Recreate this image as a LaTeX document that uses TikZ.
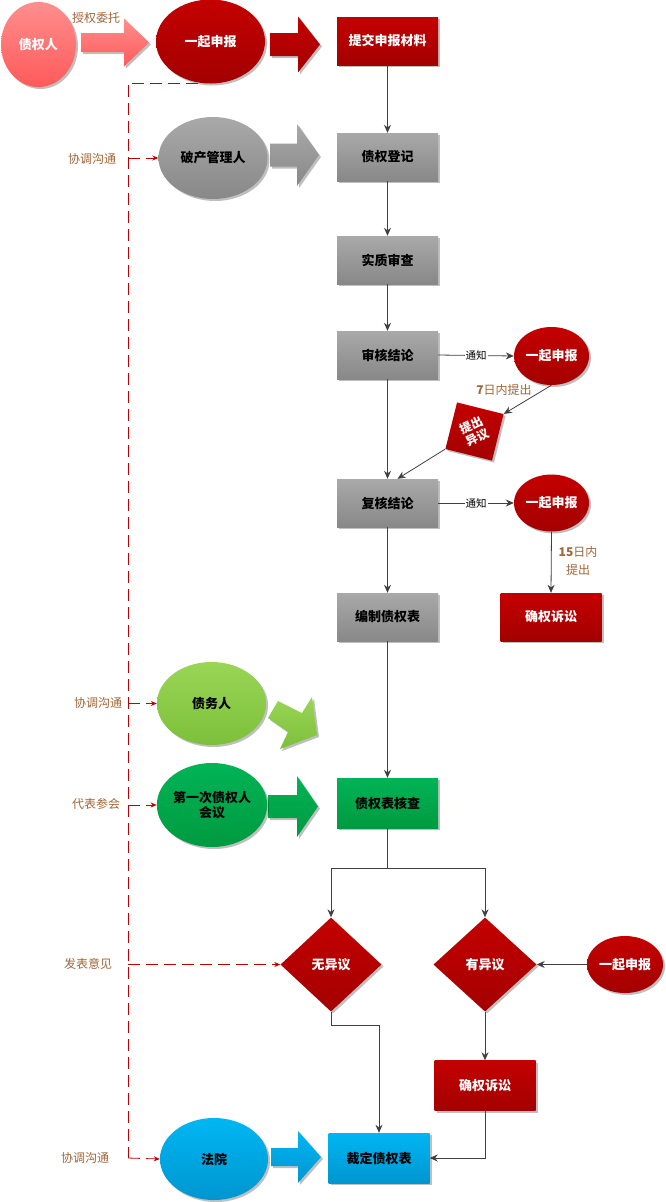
\documentclass[tikz,border=0pt]{standalone}
\usepackage{fontspec}
\setmainfont{Noto Sans CJK SC}
\usetikzlibrary{shapes.geometric,arrows.meta,shadows}
\definecolor{rtop}{HTML}{C40000}
\definecolor{rbot}{HTML}{A30000}
\definecolor{ptop}{HTML}{FF8E8E}
\definecolor{pbot}{HTML}{FF5A5A}
\definecolor{gtop}{HTML}{A9A9A9}
\definecolor{gbot}{HTML}{888888}
\definecolor{lgtop}{HTML}{9AD556}
\definecolor{lgbot}{HTML}{7CC03A}
\definecolor{dgtop}{HTML}{00B456}
\definecolor{dgbot}{HTML}{009A40}
\definecolor{btop}{HTML}{00B6F2}
\definecolor{bbot}{HTML}{0096D0}
\definecolor{brn}{HTML}{A0673A}
\definecolor{cline}{HTML}{404040}
\definecolor{dred}{HTML}{C00000}
\newcommand\blockarr[7]{%
  \path[#1] (#2,#5-#6) -- (#3,#5-#6) -- (#3,#5-#7) -- (#4,#5) -- (#3,#5+#7) -- (#3,#5+#6) -- (#2,#5+#6) -- cycle;}
\tikzset{
  shad/.style={drop shadow={shadow xshift=2pt,shadow yshift=-2pt,opacity=0.25,fill=black}},
  boxn/.style={rectangle, minimum width=101pt, minimum height=48pt, inner sep=0pt, shad,
    font=\bfseries\fontsize{13}{15}\selectfont},
  elln/.style={ellipse, inner sep=0pt, shad, align=center,
    font=\bfseries\fontsize{13}{15}\selectfont},
  dian/.style={diamond, inner sep=0pt, shad, font=\bfseries\fontsize{13}{15}\selectfont},
  redf/.style={top color=rtop, bottom color=rbot, text=white},
  pinkf/.style={top color=ptop, bottom color=pbot, text=white},
  grayf/.style={top color=gtop, bottom color=gbot, text=black},
  lgf/.style={top color=lgtop, bottom color=lgbot, text=black},
  dgf/.style={top color=dgtop, bottom color=dgbot, text=black},
  bluef/.style={top color=btop, bottom color=bbot, text=black},
  lbl/.style={text=brn, font=\fontsize{12}{14}\selectfont, inner sep=0pt, align=center},
  conn/.style={draw=cline, line width=0.8pt, -{Stealth[length=8pt,width=7pt]}},
  dsh/.style={draw=dred, line width=0.8pt, dash pattern=on 12pt off 6pt},
  dsharr/.style={dsh, -{Stealth[length=6pt,width=5pt]}},
  tz/.style={fill=white, inner sep=1pt, font=\fontsize{10.5}{12}\selectfont}
}
\begin{document}
\begin{tikzpicture}[x=1pt,y=-1pt]
\useasboundingbox (0,0) rectangle (665,1202);
\fill[white] (0,0) rectangle (665,1202);

% block arrows
\blockarr{pinkf,shad}{81}{124}{149}{42.5}{9.5}{24}
\blockarr{redf,shad}{270}{298}{320}{44.5}{11.5}{28}
\blockarr{grayf,shad}{270}{297}{319}{155}{11.5}{31}
\blockarr{dgf,shad}{268}{297}{318}{806.5}{11.5}{30.5}
\blockarr{bluef,shad}{271}{298}{321}{1157}{9}{26}
\path[lgf,shad] (278,701) -- (302,713) -- (312,697) -- (317,735) -- (280,749) -- (288,732) -- (268,718) -- cycle;

% nodes
\node[elln,pinkf,minimum width=75pt,minimum height=85pt] (zqr) at (38.5,44.5) {债权人};
\node[elln,redf,minimum width=109pt,minimum height=84pt] (yq1) at (210.5,41.5) {一起申报};
\node[boxn,redf] (tj) at (387.5,41) {提交申报材料};
\node[elln,grayf,minimum width=109pt,minimum height=82pt] (pc) at (213,158) {破产管理人};
\node[boxn,grayf] (dj) at (387.5,157) {债权登记};
\node[boxn,grayf] (sz) at (387.5,260) {实质审查};
\node[boxn,grayf] (sh) at (387.5,355) {审核结论};
\node[elln,redf,minimum width=75pt,minimum height=58pt] (yq2) at (551.5,356) {一起申报};
\node[rectangle,redf,shad,minimum size=48pt,inner sep=0pt,rotate=-14] (ty) at (474.5,431.5) {};
\node[rotate=25,text=white,align=center,inner sep=0pt,font=\bfseries\fontsize{12}{14}\selectfont] (tyt) at (ty.center) {提出\\异议};
\node[boxn,grayf] (fh) at (387.5,503) {复核结论};
\node[elln,redf,minimum width=75pt,minimum height=57pt] (yq3) at (551.5,503) {一起申报};
\node[boxn,redf] (qs1) at (551,617) {确权诉讼};
\node[boxn,grayf] (bz) at (387.5,617) {编制债权表};
\node[elln,lgf,minimum width=109pt,minimum height=83pt] (zw) at (211.5,703.5) {债务人};
\node[elln,dgf,minimum width=110pt,minimum height=84pt] (dy) at (212,805) {第一次债权人\\会议};
\node[boxn,dgf,minimum height=50pt] (hc) at (387.5,803) {债权表核查};
\node[dian,redf,minimum width=101pt,minimum height=94pt] (wu) at (331,964.5) {无异议};
\node[dian,redf,minimum width=103pt,minimum height=94pt] (you) at (485,964.5) {有异议};
\node[elln,redf,minimum width=76pt,minimum height=57pt] (yq4) at (625,964.5) {一起申报};
\node[boxn,redf,minimum height=50pt] (qs2) at (485,1085.5) {确权诉讼};
\node[elln,bluef,minimum width=108pt,minimum height=82pt] (fy) at (214,1159) {法院};
\node[boxn,bluef,minimum height=50pt] (cd) at (379,1158) {裁定债权表};

% labels
\node[lbl] (l0) at (96,18) {授权委托};
\node[lbl] (l1) at (92,159) {协调沟通};
\node[lbl] (l2) at (98,703) {协调沟通};
\node[lbl] (l3) at (96,804) {代表参会};
\node[lbl] (l4) at (88,964) {发表意见};
\node[lbl] (l5) at (85,1158) {协调沟通};
\node[lbl] (l6) at (504,390) {\textbf{7}日内提出};
\node[lbl,font=\fontsize{12}{18}\selectfont] (l7) at (578,561) {\textbf{15}日内\\提出};

% connectors
\draw[conn] (tj) -- (dj);
\draw[conn] (dj) -- (sz);
\draw[conn] (sz) -- (sh);
\draw[conn] (sh) -- (fh);
\draw[conn] (sh.east) -- node[tz] (tz1) {通知} (yq2.west);
\draw[conn] (yq2.south) -- (ty.north east);
\draw[conn] (ty.south west) -- ([xshift=10pt]fh.north);
\draw[conn] (fh.east) -- node[tz] (tz2) {通知} (yq3.west);
\draw[conn] (yq3.south) -- (qs1.north);
\draw[conn] (fh) -- (bz);
\draw[conn] (bz) -- (hc);
\draw[conn] (hc.south) -- ++(0,40) -| (wu.north);
\draw[conn] (hc.south) -- ++(0,40) -| (you.north);
\draw[conn] (yq4.west) -- (you.east);
\draw[conn] (wu.south) -- ++(0,14) -| (cd.north);
\draw[conn] (you.south) -- (qs2.north);
\draw[conn] (qs2.south) |- (cd.east);

% dashed coordination lines
\coordinate (dtop) at (198,83);
\draw[dsh] (dtop) -- (128,83) -- (128,1158);
\draw[dsharr] (128,1158) -- (fy.west);
\draw[dsharr] (128,158) -- (pc.west);
\draw[dsharr] (128,703.5) -- (zw.west);
\draw[dsharr] (128,805) -- (dy.west);
\draw[dsharr] (128,964.5) -- (wu.west);
\end{tikzpicture}
\end{document}
